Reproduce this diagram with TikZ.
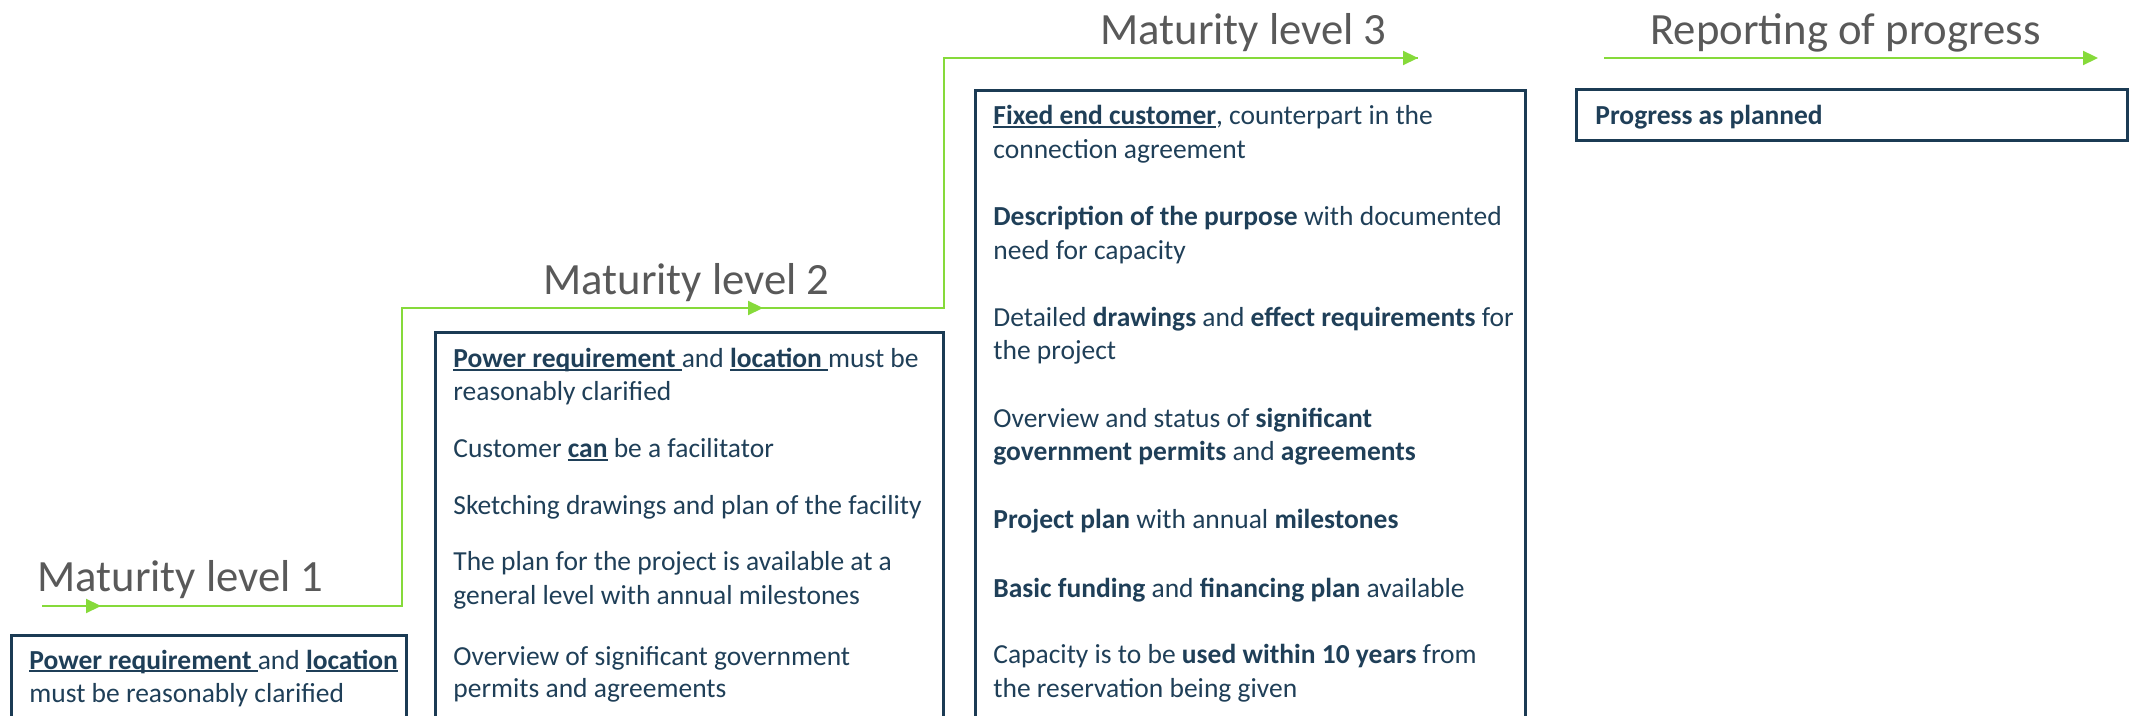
\documentclass[tikz,border=0pt]{standalone}
\usepackage{fontspec}
\setmainfont{Carlito}
\usetikzlibrary{arrows.meta}
\definecolor{navy}{HTML}{1B3B54}
\definecolor{txt}{HTML}{1F3F58}
\definecolor{lime}{HTML}{86DA3A}
\definecolor{ttl}{HTML}{595959}
\newcommand\ulx[1]{\setbox0\hbox{#1}\rlap{\rule[-0.12em]{\wd0}{0.07em}}\box0\relax}
\tikzset{
 body/.style={anchor=base west, inner sep=0pt, font=\fontsize{13.75pt}{16pt}\selectfont, text=txt},
 ttlnode/.style={anchor=base west, inner sep=0pt, font=\fontsize{22.35pt}{26pt}\selectfont, text=ttl},
 box/.style={draw=navy, line width=1.5pt},
 flow/.style={draw=lime, line width=1.1pt},
 tip/.style={-{Triangle[length=7.5pt,width=7pt]}, draw=lime, fill=lime, line width=1.1pt}
}
\begin{document}
\begin{tikzpicture}[x=0.5pt,y=-0.5pt]
\useasboundingbox (0,0) rectangle (2132,716);
\clip (0,0) rectangle (2132,716);

% green flow line
\coordinate (s1) at (42,606);
\coordinate (c1) at (402,606);
\coordinate (c2) at (402,308);
\coordinate (c3) at (944,308);
\coordinate (c4) at (944,58);
\coordinate (e3) at (1418,58);
\coordinate (m1a) at (70,606);
\coordinate (m1) at (101,606);
\coordinate (m2a) at (730,308);
\coordinate (m2) at (763,308);
\coordinate (e3a) at (1380,58);
\draw[flow] (s1) -- (c1) -- (c2) -- (c3) -- (c4) -- (e3);
\draw[tip] (m1a) -- (m1);
\draw[tip] (m2a) -- (m2);
\draw[tip] (e3a) -- (e3);
\coordinate (r0) at (1604,58);
\coordinate (r1) at (2098,58);
\draw[tip] (r0) -- (r1);

% titles
\node[ttlnode] (t1) at (37,591) {Maturity level 1};
\node[ttlnode] (t2) at (543,295) {Maturity level 2};
\node[ttlnode] (t3) at (1100,45) {Maturity level 3};
\node[ttlnode] (t4) at (1650,45) {Reporting of progress};

% boxes
\draw[box] (11,635) rectangle (406,760);
\draw[box] (435,333) rectangle (943,760);
\draw[box] (975,91) rectangle (1525,760);
\draw[box] (1576,90) rectangle (2127,141);

% box 1
\node[body] (b1a) at (29,669) {\ulx{\textbf{Power requirement }}and \ulx{\textbf{location}}};
\node[body] (b1b) at (29,702) {must be reasonably clarified};

% box 2
\node[body] (b2a) at (453,368) {\ulx{\textbf{Power requirement }}and \ulx{\textbf{location }}must be};
\node[body] (b2b) at (453,401) {reasonably clarified};
\node[body] (b2c) at (453,458) {Customer \ulx{\textbf{can}} be a facilitator};
\node[body] (b2d) at (453,515) {Sketching drawings and plan of the facility};
\node[body] (b2e) at (453,571) {The plan for the project is available at a};
\node[body] (b2f) at (453,604) {general level with annual milestones};
\node[body] (b2g) at (453,665) {Overview of significant government};
\node[body] (b2h) at (453,697) {permits and agreements};

% box 3
\node[body] (b3a) at (993,125) {\ulx{\textbf{Fixed end customer}}, counterpart in the};
\node[body] (b3b) at (993,159) {connection agreement};
\node[body] (b3c) at (993,226) {\textbf{Description of the purpose} with documented};
\node[body] (b3d) at (993,260) {need for capacity};
\node[body] (b3e) at (993,327) {Detailed \textbf{drawings} and \textbf{effect requirements} for};
\node[body] (b3f) at (993,360) {the project};
\node[body] (b3g) at (993,428) {Overview and status of \textbf{significant}};
\node[body] (b3h) at (993,461) {\textbf{government permits} and \textbf{agreements}};
\node[body] (b3i) at (993,529) {\textbf{Project plan} with annual \textbf{milestones}};
\node[body] (b3j) at (993,597) {\textbf{Basic funding} and \textbf{financing plan} available};
\node[body] (b3k) at (993,663) {Capacity is to be \textbf{used within 10 years} from};
\node[body] (b3l) at (993,697) {the reservation being given};

% box 4
\node[body] (b4a) at (1595,125) {\textbf{Progress as planned}};
\end{tikzpicture}
\end{document}
